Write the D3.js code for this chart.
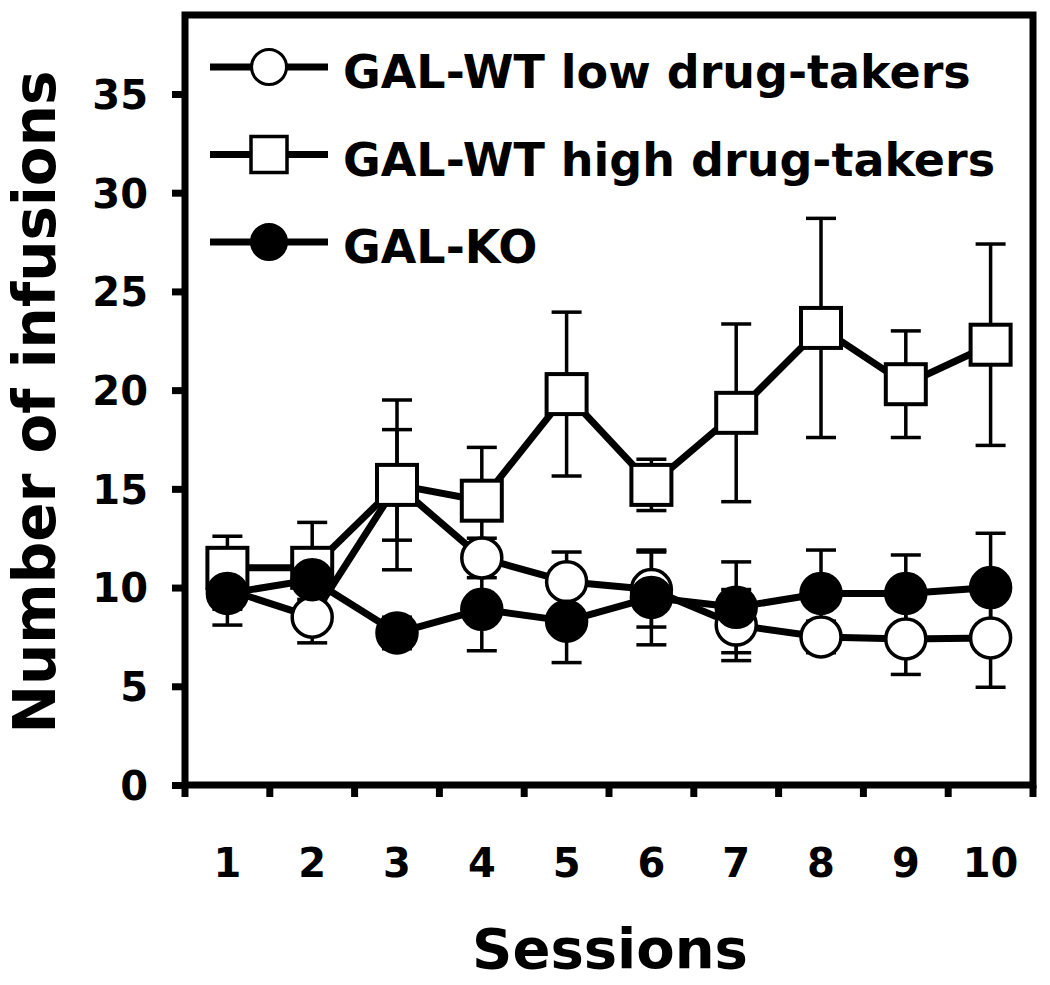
<!DOCTYPE html>
<html><head><meta charset="utf-8">
<script src="https://cdn.jsdelivr.net/npm/d3@7"></script>
<style>body{margin:0;background:#fff}svg{display:block}text{font-family:"DejaVu Sans",Verdana,sans-serif;font-weight:bold;fill:#000}</style>
</head><body>
<svg id="c" width="1050" height="985"></svg>
<script>
const sessions = [1,2,3,4,5,6,7,8,9,10];
const yTicks = [0,5,10,15,20,25,30,35];
const seriesNames = ["GAL-WT low drug-takers","GAL-WT high drug-takers","GAL-KO"];
const lowMean  = [9.9, 8.5, 15.2, 11.5, 10.3, 9.9, 8.1, 7.5, 7.4, 7.45];
const lowErr   = [1.0, 1.3, 2.8, 1.0, 1.5, 1.9, 1.8, 0.8, 1.8, 2.5];
const highMean = [11.0, 11.0, 15.2, 14.4, 19.8, 15.2, 18.85, 23.15, 20.3, 22.3];
const highErr  = [1.6, 2.3, 4.3, 2.7, 4.15, 1.3, 4.5, 5.55, 2.7, 5.1];
const koMean   = [9.7, 10.4, 7.7, 8.9, 8.3, 9.5, 9.0, 9.7, 9.7, 10.0];
const koErr    = [1.6, 1.0, 0.8, 2.1, 2.1, 2.4, 2.3, 2.2, 1.95, 2.75];

const series = [
  {name: seriesNames[0], mean: lowMean, err: lowErr, shape: "circle", fill: "#fff"},
  {name: seriesNames[1], mean: highMean, err: highErr, shape: "square", fill: "#fff"},
  {name: seriesNames[2], mean: koMean, err: koErr, shape: "circle", fill: "#000"}
];

const svg = d3.select("#c");
const L = 185, R = 1033, T = 15, B = 785;
const x = d3.scaleBand().domain(sessions).range([L, R]).padding(0);
const cx = d => x(d) + x.bandwidth()/2;
const y = d3.scaleLinear().domain([0, 39]).range([B, T]);

// frame
svg.append("rect").attr("x", L).attr("y", T).attr("width", R-L).attr("height", B-T)
  .attr("fill","none").attr("stroke","#000").attr("stroke-width",7);

// y axis
const yAx = svg.append("g").attr("transform", `translate(${L},0)`)
  .call(d3.axisLeft(y).tickValues(yTicks).tickSize(13).tickPadding(24));
yAx.select(".domain").remove();
yAx.selectAll(".tick line").attr("stroke-width",7);
yAx.selectAll(".tick text").style("font-size","40px").attr("dy","0.36em");

// x axis ticks at band boundaries
const bounds = sessions.map(d => x(d)).concat([R]);
svg.selectAll(".xt").data(bounds).join("line").attr("class","xt")
  .attr("x1", d=>d).attr("x2", d=>d).attr("y1", B).attr("y2", B+12)
  .attr("stroke","#000").attr("stroke-width",7);
svg.selectAll(".xl").data(sessions).join("text").attr("class","xl")
  .attr("x", d=>cx(d)).attr("y", 877).attr("text-anchor","middle")
  .style("font-size","40px").text(d=>d);

// axis titles
svg.append("text").attr("x", 610).attr("y", 968).attr("text-anchor","middle")
  .style("font-size","56px").text("Sessions");
svg.append("text").attr("transform","translate(55,402) rotate(-90)").attr("text-anchor","middle")
  .style("font-size","58px").text("Number of infusions");

// series: lines, then error bars, then markers
const line = d3.line().x((d,i)=>cx(sessions[i])).y(d=>y(d));
const gLines = svg.append("g"), gErr = svg.append("g"), gMarks = svg.append("g");
series.forEach(s => {
  gLines.append("path").attr("d", line(s.mean)).attr("fill","none").attr("stroke","#000")
    .attr("stroke-width",7).attr("stroke-linejoin","round");
  const eb = gErr.append("g").selectAll("g").data(sessions).join("g");
  eb.append("line").attr("x1", d=>cx(d)).attr("x2", d=>cx(d))
    .attr("y1", (d,i)=>y(s.mean[i]-s.err[i])).attr("y2", (d,i)=>y(s.mean[i]+s.err[i]))
    .attr("stroke","#000").attr("stroke-width",3.5);
  [-1,1].forEach(sg => {
    eb.append("line").attr("x1", d=>cx(d)-15).attr("x2", d=>cx(d)+15)
      .attr("y1", (d,i)=>y(s.mean[i]+sg*s.err[i])).attr("y2", (d,i)=>y(s.mean[i]+sg*s.err[i]))
      .attr("stroke","#000").attr("stroke-width",3.5);
  });
});
series.forEach(s => {
  const g = gMarks.append("g");
  if (s.shape === "circle") {
    g.selectAll(".m").data(sessions).join("circle")
      .attr("cx", d=>cx(d)).attr("cy", (d,i)=>y(s.mean[i])).attr("r", 20)
      .attr("fill", s.fill).attr("stroke","#000").attr("stroke-width",3.5);
  } else {
    g.selectAll(".m").data(sessions).join("rect")
      .attr("x", d=>cx(d)-20).attr("y", (d,i)=>y(s.mean[i])-20).attr("width",40).attr("height",40)
      .attr("fill", s.fill).attr("stroke","#000").attr("stroke-width",4);
  }
});

// legend
const leg = svg.append("g");
series.forEach((s, k) => {
  const ly = 67 + k*87.5;
  leg.append("line").attr("x1",210).attr("x2",328).attr("y1",ly).attr("y2",ly)
    .attr("stroke","#000").attr("stroke-width",7);
  if (s.shape === "circle") {
    leg.append("circle").attr("cx",269).attr("cy",ly).attr("r",17.5)
      .attr("fill", s.fill).attr("stroke","#000").attr("stroke-width",3);
  } else {
    leg.append("rect").attr("x",251).attr("y",ly-18).attr("width",36).attr("height",36)
      .attr("fill", s.fill).attr("stroke","#000").attr("stroke-width",3.5);
  }
  leg.append("text").attr("x",343).attr("y",ly+21).style("font-size","46px").text(s.name);
});
</script>
</body></html>
